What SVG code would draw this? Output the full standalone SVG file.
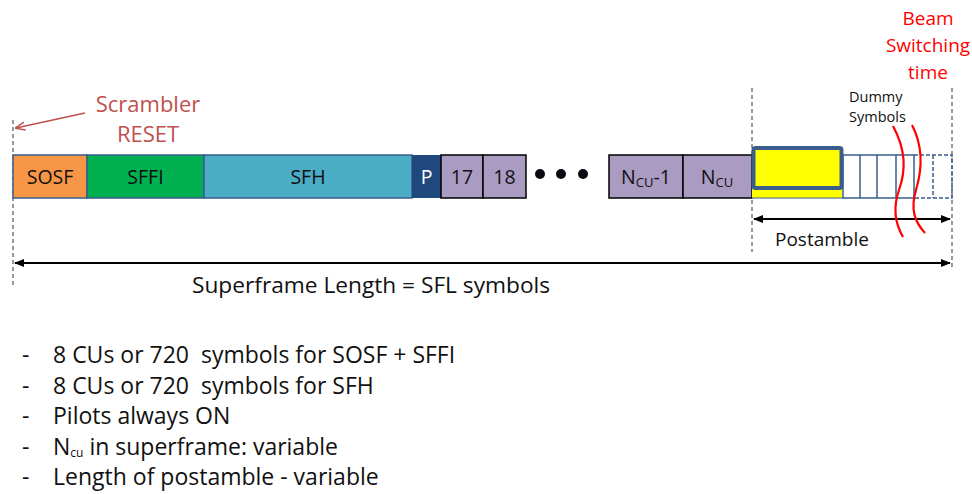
<svg xmlns="http://www.w3.org/2000/svg" width="972" height="494" viewBox="0 0 972 494">
<style>
text{font-family:"Open Sans","Liberation Sans",sans-serif;white-space:pre;}
.cell{stroke:#385D8A;stroke-width:1.5;}
.pcell{fill:#A99BC1;stroke:#000;stroke-width:1.5;}
.lbl{font-size:19.5px;fill:#111;text-anchor:middle;}
.dash{stroke:#333;stroke-width:1;stroke-dasharray:4 3;fill:none;}
.dim{stroke:#000;stroke-width:2;fill:none;}
.bul{font-size:23px;fill:#111;}
.wave{stroke:#FF0000;stroke-width:2.2;fill:none;}
.post{fill:#fff;stroke:#385D8A;stroke-width:1.5;}
</style>
<defs>
<marker id="ah" markerWidth="10" markerHeight="10" refX="9" refY="5" orient="auto-start-reverse" markerUnits="userSpaceOnUse"><path d="M0,1 L10,5 L0,9 Z" fill="#000"/></marker>
<marker id="ahr" markerWidth="10" markerHeight="10" refX="9" refY="5" orient="auto" markerUnits="userSpaceOnUse"><path d="M0,1 L10,5 L0,9" fill="none" stroke="#C0504D" stroke-width="1.5"/></marker>
</defs>
<g id="guides">
<line class="dash" x1="13" y1="120" x2="13" y2="286"/>
<line class="dash" x1="752" y1="88" x2="752" y2="252"/>
<line class="dash" x1="952" y1="88" x2="952" y2="270"/>
</g>
<g id="sosf"><rect class="cell" x="13" y="155" width="74" height="43" fill="#F79646"/><text class="lbl" x="50" y="184">SOSF</text></g>
<g id="sffi"><rect class="cell" x="87" y="155" width="117" height="43" fill="#00B050"/><text class="lbl" x="145.5" y="184">SFFI</text></g>
<g id="sfh"><rect class="cell" x="204" y="155" width="208" height="43" fill="#4BACC6"/><text class="lbl" x="308" y="184">SFH</text></g>
<g id="p"><rect x="412" y="155" width="29" height="43" fill="#1F497D"/><text class="lbl" x="426.5" y="184" style="fill:#fff">P</text></g>
<g id="cu17"><rect class="pcell" x="441" y="155" width="42" height="43"/><text class="lbl" x="462" y="184">17</text></g>
<g id="cu18"><rect class="pcell" x="483" y="155" width="43" height="43"/><text class="lbl" x="504.5" y="184">18</text></g>
<g id="dots" fill="#0A0A14"><circle cx="540" cy="174" r="5"/><circle cx="561" cy="174" r="5"/><circle cx="583" cy="174" r="5"/></g>
<g id="ncu1"><rect class="pcell" x="609" y="155" width="74" height="43"/><text class="lbl" x="646" y="184">N<tspan font-size="13" dy="3">CU</tspan><tspan dy="-3">-1</tspan></text></g>
<g id="ncu"><rect class="pcell" x="683" y="155" width="69" height="43"/><text class="lbl" x="717" y="184">N<tspan font-size="13" dy="3">CU</tspan></text></g>
<g id="postamble">
<rect x="752" y="187" width="90" height="11" fill="#FFFF00"/>
<rect class="post" x="843" y="155" width="71" height="43"/>
<line class="post" x1="860" y1="155" x2="860" y2="198"/>
<line class="post" x1="877" y1="155" x2="877" y2="198"/>
<line class="post" x1="896" y1="155" x2="896" y2="198"/>
<path d="M914,155 H952 V198 H914 M933,155 V198" fill="none" stroke="#385D8A" stroke-width="1.5" stroke-dasharray="4 2"/>
<line x1="752" y1="198" x2="843" y2="198" stroke="#385D8A" stroke-width="1"/>
<rect x="753.5" y="148" width="88" height="40" rx="2" fill="#FFFF00" stroke="#3B5D8C" stroke-width="4"/>
</g>
<g id="connectors">
<line class="dim" x1="15" y1="263" x2="950" y2="263" marker-start="url(#ah)" marker-end="url(#ah)"/>
<line class="dim" x1="754" y1="219" x2="950" y2="219" marker-start="url(#ah)" marker-end="url(#ah)"/>
<line x1="85" y1="113" x2="16" y2="128" stroke="#C0504D" stroke-width="1.5" marker-end="url(#ahr)"/>
<path class="wave" d="M893,126 C906,150 906,170 899,190 C892,210 896,225 903,237"/>
<path class="wave" d="M912,125 C924,148 922,170 916,190 C910,210 915,222 925,233"/>
</g>
<g id="labels">
<text x="148" y="112" font-size="22" fill="#C0504D" text-anchor="middle">Scrambler</text>
<text x="148" y="142" font-size="22" fill="#C0504D" text-anchor="middle">RESET</text>
<text x="928" y="25" font-size="19" fill="#FF0000" text-anchor="middle">Beam</text>
<text x="928" y="52" font-size="19" fill="#FF0000" text-anchor="middle">Switching</text>
<text x="928" y="79" font-size="19" fill="#FF0000" text-anchor="middle">time</text>
<text x="849" y="102" font-size="14.5" fill="#111">Dummy</text>
<text x="849" y="122" font-size="14.5" fill="#111">Symbols</text>
<text x="775" y="246" font-size="19" fill="#111">Postamble</text>
<text x="192" y="293" font-size="22.7" fill="#111">Superframe Length = SFL symbols</text>
</g>
<g id="bullets">
<text class="bul" x="22" y="363">-</text><text class="bul" x="53" y="363">8 CUs or 720  symbols for SOSF + SFFI</text>
<text class="bul" x="22" y="393.5">-</text><text class="bul" x="53" y="393.5">8 CUs or 720  symbols for SFH</text>
<text class="bul" x="22" y="424">-</text><text class="bul" x="53" y="424">Pilots always ON</text>
<text class="bul" x="22" y="454.5">-</text><text class="bul" x="53" y="454.5">N<tspan font-size="12" dy="2.5">cu</tspan><tspan dy="-2.5"> in superframe: variable</tspan></text>
<text class="bul" x="22" y="485">-</text><text class="bul" x="53" y="485">Length of postamble - variable</text>
</g>
</svg>
